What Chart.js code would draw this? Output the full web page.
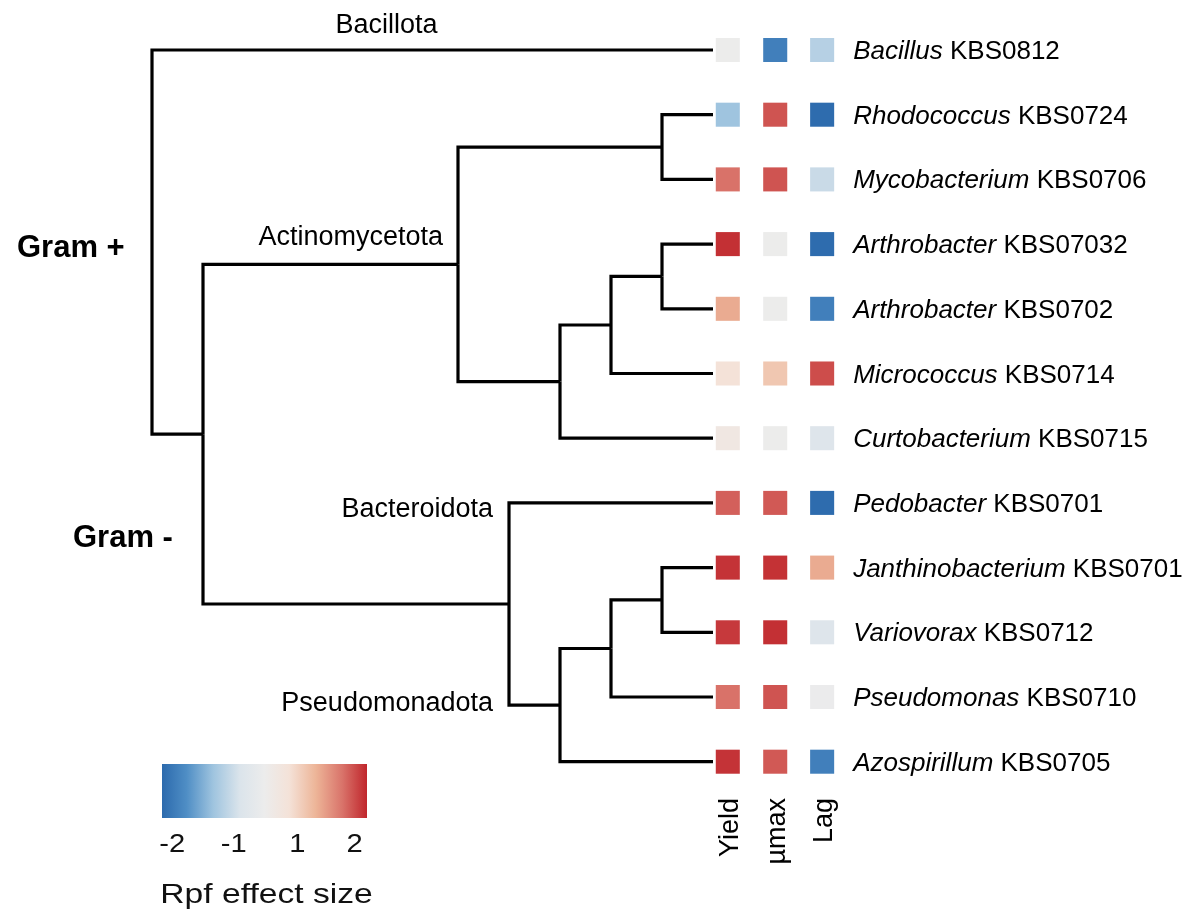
<!DOCTYPE html>
<html>
<head>
<meta charset="utf-8">
<script src="https://cdn.jsdelivr.net/npm/chart.js@4/dist/chart.umd.min.js"></script>
<style>
  html, body { margin: 0; padding: 0; background: #fff; }
  #tree-chart { display: block; }
</style>
</head>
<body>
<canvas id="tree-chart" width="1200" height="922"></canvas>
<script>
// Tips, top to bottom (row index = position in list)
const genus = ['Bacillus', 'Rhodococcus', 'Mycobacterium', 'Arthrobacter', 'Arthrobacter', 'Micrococcus',
    'Curtobacterium', 'Pedobacter', 'Janthinobacterium', 'Variovorax', 'Pseudomonas', 'Azospirillum'];
const strain = ['KBS0812', 'KBS0724', 'KBS0706', 'KBS07032', 'KBS0702', 'KBS0714',
    'KBS0715', 'KBS0701', 'KBS0701', 'KBS0712', 'KBS0710', 'KBS0705'];

// Rpf effect sizes per tip (same order as above)
const yieldVals = [0, -1.33, 1.79, 2.15, 1.39, 0.74, 0.35, 1.89, 2.13, 2.10, 1.79, 2.13];
const umaxVals  = [-1.93, 1.96, 1.96, 0, 0, 1.14, 0, 1.93, 2.14, 2.15, 1.96, 1.93];
const lagVals   = [-1.17, -2.15, -1.03, -2.15, -1.93, 2.00, -0.68, -2.15, 1.39, -0.68, -0.10, -1.93];
const traitNames = ['Yield', 'µmax', 'Lag'];

// Tree: [node, depth level, child A, child B]; numbers are tip rows
const tipLevel = 11;
const treeNodes = [
    ['root', 0, 0, 'gram'],
    ['gram', 1, 'actino', 'prot'],
    ['actino', 6, 'rhodoMyco', 'n8a'],
    ['rhodoMyco', 10, 1, 2],
    ['n8a', 8, 'n9a', 6],
    ['n9a', 9, 'arthro', 5],
    ['arthro', 10, 3, 4],
    ['prot', 7, 7, 'n8b'],
    ['n8b', 8, 'n9b', 11],
    ['n9b', 9, 'jv', 10],
    ['jv', 10, 8, 9]
];

// Colour scale legend ticks
const legendTicks = [-2, -1, 1, 2];

// ---- colour scale (blue - grey - red) ----
const colorStops = [
    [0, [44, 106, 173]], [0.12, [79, 142, 197]], [0.25, [159, 196, 223]], [0.38, [219, 228, 235]],
    [0.5, [236, 236, 236]], [0.62, [244, 226, 216]], [0.75, [237, 181, 152]], [0.88, [217, 115, 106]],
    [1, [192, 38, 44]]
];
// where each effect size sits on the bar (the bar is not linear between -1 and 1)
const valueAnchors = [[-2.17, 0], [-2, 0.05], [-1, 0.35], [1, 0.66], [2, 0.94], [2.2, 1]];

function valueToFrac(v) {
    if (v <= valueAnchors[0][0]) return 0;
    for (let i = 1; i < valueAnchors.length; i++) {
        const a = valueAnchors[i - 1], b = valueAnchors[i];
        if (v <= b[0]) return a[1] + (v - a[0]) / (b[0] - a[0]) * (b[1] - a[1]);
    }
    return 1;
}
function fracToColor(f) {
    for (let i = 1; i < colorStops.length; i++) {
        const a = colorStops[i - 1], b = colorStops[i];
        if (f <= b[0]) {
            const t = (f - a[0]) / (b[0] - a[0]);
            const c = a[1].map((x, k) => Math.round(x + (b[1][k] - x) * t));
            return 'rgb(' + c.join(',') + ')';
        }
    }
    const last = colorStops[colorStops.length - 1][1];
    return 'rgb(' + last.join(',') + ')';
}

// ---- build branch lines from the tree ----
const nodeInfo = {};
treeNodes.forEach(function(n) { nodeInfo[n[0]] = { level: n[1], kids: [n[2], n[3]] }; });

function nodeY(id) {
    if (typeof id === 'number') return id;
    const k = nodeInfo[id].kids;
    return (nodeY(k[0]) + nodeY(k[1])) / 2;
}
function nodeLevel(id) {
    return typeof id === 'number' ? tipLevel : nodeInfo[id].level;
}

let branchSets = [];
treeNodes.forEach(function(n) {
    const x = n[1], y = nodeY(n[0]);
    [n[2], n[3]].forEach(function(kid) {
        branchSets.push({
            type: 'line',
            data: [{x: x, y: y}, {x: x, y: nodeY(kid)}, {x: nodeLevel(kid), y: nodeY(kid)}],
            borderColor: '#000',
            borderWidth: 3.2,
            borderJoinStyle: 'miter',
            pointRadius: 0,
            fill: false,
            tension: 0
        });
    });
});

// heatmap columns
const colX = [11.29, 12.22, 13.14];
const heatSets = [yieldVals, umaxVals, lagVals].map(function(vals, i) {
    return {
        type: 'scatter',
        data: vals.map(function(v, r) { return {x: colX[i], y: r}; }),
        pointStyle: 'rect',
        pointRadius: 17,
        pointHoverRadius: 17,
        borderWidth: 0,
        backgroundColor: vals.map(function(v) { return fracToColor(valueToFrac(v)); })
    };
});

// text labels, legend bar
const labelPlugin = {
    id: 'treeLabels',
    afterDraw: function(chart) {
        const ctx = chart.ctx;
        const xs = chart.scales.x, ys = chart.scales.y;
        const font = '"Liberation Sans", Arial, sans-serif';
        ctx.save();
        ctx.fillStyle = '#000';
        ctx.textBaseline = 'alphabetic';

        // tip names
        const tx = xs.getPixelForValue(colX[2]) + 31;
        genus.forEach(function(g, r) {
            const y = ys.getPixelForValue(r) + 9;
            ctx.textAlign = 'left';
            ctx.font = 'italic 26px ' + font;
            ctx.fillText(g, tx, y);
            const w = ctx.measureText(g + ' ').width;
            ctx.font = '26px ' + font;
            ctx.fillText(strain[r], tx + w, y);
        });

        // clade labels
        ctx.font = '27px ' + font;
        ctx.textAlign = 'center';
        ctx.fillText('Bacillota', xs.getPixelForValue(4.6), ys.getPixelForValue(0) - 17);
        ctx.textAlign = 'right';
        ctx.fillText('Actinomycetota', xs.getPixelForValue(6) - 15, ys.getPixelForValue(nodeY('actino')) - 19);
        ctx.fillText('Bacteroidota', xs.getPixelForValue(7) - 16, ys.getPixelForValue(7) + 14);
        ctx.fillText('Pseudomonadota', xs.getPixelForValue(7) - 16, ys.getPixelForValue(nodeY('n8b')) + 6);

        ctx.font = 'bold 31px ' + font;
        ctx.textAlign = 'left';
        ctx.fillText('Gram +', 17, 257);
        ctx.fillText('Gram -', 73, 547);

        // column names, rotated
        ctx.font = '27px ' + font;
        traitNames.forEach(function(t, i) {
            ctx.save();
            ctx.translate(xs.getPixelForValue(colX[i]) + 10, 798);
            ctx.rotate(-Math.PI / 2);
            ctx.textAlign = 'right';
            ctx.fillText(t, 0, 0);
            ctx.restore();
        });

        // colour bar
        const bx = 162, by = 764, bw = 205, bh = 54;
        const grad = ctx.createLinearGradient(bx, 0, bx + bw, 0);
        colorStops.forEach(function(s) { grad.addColorStop(s[0], 'rgb(' + s[1].join(',') + ')'); });
        ctx.fillStyle = grad;
        ctx.fillRect(bx, by, bw, bh);

        ctx.fillStyle = '#111';
        ctx.textAlign = 'center';
        legendTicks.forEach(function(v) {
            ctx.save();
            ctx.translate(bx + valueToFrac(v) * bw, 852);
            ctx.scale(1.12, 1);
            ctx.font = '26px ' + font;
            ctx.fillText(String(v), 0, 0);
            ctx.restore();
        });
        ctx.save();
        ctx.translate(bx + bw / 2 + 2, 903);
        ctx.scale(1.2, 1);
        ctx.font = '28px ' + font;
        ctx.fillText('Rpf effect size', 0, 0);
        ctx.restore();

        ctx.restore();
    }
};

const ctx = document.getElementById('tree-chart').getContext('2d');
const chart = new Chart(ctx, {
    type: 'scatter',
    data: { datasets: branchSets.concat(heatSets) },
    options: {
        responsive: false,
        animation: false,
        devicePixelRatio: 1,
        layout: { padding: 0, autoPadding: false },
        plugins: { legend: { display: false }, tooltip: { enabled: false } },
        scales: {
            x: { type: 'linear', display: false, min: -152 / 51, max: (1200 - 152) / 51 },
            y: { type: 'linear', display: false, reverse: true, min: -50 / 64.7, max: (922 - 50) / 64.7 }
        }
    },
    plugins: [labelPlugin]
});
</script>
</body>
</html>
